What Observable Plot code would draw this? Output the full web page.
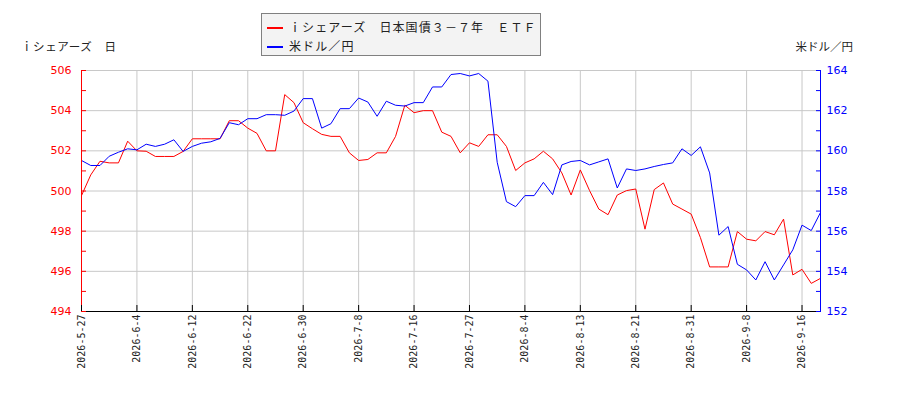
<!DOCTYPE html>
<html><head><meta charset="utf-8">
<script src="https://cdn.jsdelivr.net/npm/d3@7"></script>
<script src="https://cdn.jsdelivr.net/npm/@observablehq/plot@0.6"></script>
<style>
body{margin:0;background:#fff;}
#wrap{position:relative;width:900px;height:400px;overflow:hidden;}
#wrap svg{position:absolute;left:0;top:0;}
.jp{font-family:"Noto Sans CJK JP","Noto Sans",sans-serif;color:#222;position:absolute;white-space:nowrap;line-height:1;}
#legend{position:absolute;left:261px;top:13px;width:278px;height:41px;background:#f3f3f3;border:1px solid #808080;}
.row{position:absolute;left:5px;height:14px;}
.sw{position:absolute;left:0;top:6px;width:16px;height:2px;}
.lt{position:absolute;left:22px;top:0;font-size:12px;letter-spacing:1.1px;}
</style></head><body>
<div id="wrap"></div>
<script>
const seriesNames = ["ｉシェアーズ　日本国債３－７年　ＥＴＦ", "米ドル／円"];
const seriesColors = ["#ff0000", "#0000ff"];
const leftTitle = "ｉシェアーズ　日";
const rightTitle = "米ドル／円";
const tickLabels = ["2026-5-27","2026-6-4","2026-6-12","2026-6-22","2026-6-30","2026-7-8","2026-7-16","2026-7-27","2026-8-4","2026-8-13","2026-8-21","2026-8-31","2026-9-8","2026-9-16"];
const tickStep = 6;
const etf = [499.77,500.8,501.48,501.4,501.4,502.48,502.0,501.98,501.72,501.72,
501.72,501.97,502.6,502.6,502.6,502.6,503.5,503.5,503.13,502.87,
502.0,502.0,504.8,504.4,503.4,503.1,502.82,502.72,502.72,501.9,
501.52,501.57,501.9,501.9,502.72,504.27,503.9,504.0,504.0,502.93,
502.72,501.9,502.4,502.22,502.8,502.8,502.22,501.02,501.4,501.6,
501.98,501.6,500.9,499.8,501.05,500.02,499.1,498.82,499.8,500.02,
500.1,498.1,500.07,500.4,499.35,499.1,498.85,497.68,496.22,496.22,
496.22,497.98,497.6,497.52,497.98,497.82,498.6,495.82,496.1,495.4,495.65];
const usdjpy = [159.52,159.27,159.27,159.73,159.93,160.1,160.05,160.33,160.22,160.33,
160.55,159.97,160.22,160.38,160.45,160.62,161.4,161.3,161.6,161.6,
161.8,161.8,161.77,161.98,162.6,162.6,161.13,161.35,162.1,162.1,
162.63,162.43,161.72,162.47,162.27,162.23,162.4,162.4,163.18,163.18,
163.8,163.85,163.73,163.85,163.47,159.43,157.47,157.22,157.77,157.77,
158.43,157.82,159.3,159.47,159.52,159.3,159.45,159.6,158.15,159.1,
159.02,159.1,159.22,159.32,159.4,160.1,159.77,160.2,158.9,155.8,
156.23,154.35,154.07,153.57,154.48,153.57,154.32,155.07,156.3,156.03,156.93];
const leftDomain = [494, 506];
const rightDomain = [152, 164];
const leftMajor = [494,496,498,500,502,504,506];
const leftMinor = [494,495,496,497,498,499,500,501,502,503,504,505,506];

const off = leftDomain[0] - rightDomain[0];
const tickIdx = tickLabels.map((_, i) => i * tickStep);
const lastIdx = etf.length - 1;
const etfData = etf.map((v, i) => ({i, v}));
const fxData = usdjpy.map((v, i) => ({i, v: v + off}));
const numFont = "DejaVu Sans, sans-serif";

const chart = Plot.plot({
  width: 900, height: 400,
  marginLeft: 81, marginRight: 80, marginTop: 70, marginBottom: 89,
  style: {background: "transparent", fontFamily: numFont},
  x: {type: "linear", domain: [0, lastIdx]},
  y: {domain: leftDomain},
  marks: [
    Plot.gridY(leftMajor, {stroke: "#c8c8c8", strokeOpacity: 1}),
    Plot.gridX(tickIdx, {stroke: "#c8c8c8", strokeOpacity: 1}),
    Plot.line(etfData, {x: "i", y: "v", stroke: seriesColors[0], strokeWidth: 1}),
    Plot.line(fxData, {x: "i", y: "v", stroke: seriesColors[1], strokeWidth: 1}),
    Plot.ruleY([leftDomain[0]], {stroke: "#000"}),
    Plot.ruleX([0], {stroke: seriesColors[0]}),
    Plot.ruleX([lastIdx], {stroke: seriesColors[1]}),
    Plot.axisY({anchor: "left", ticks: leftMajor, tickSize: 0, tickPadding: 10, tickFormat: d => String(d), color: seriesColors[0], fontSize: 11, fontFamily: numFont, label: null}),
    Plot.axisY({anchor: "left", ticks: leftMinor, tickSize: 5, dx: 5, tickFormat: () => "", stroke: seriesColors[0], label: null}),
    Plot.axisY({anchor: "right", ticks: leftMajor, tickSize: 0, tickPadding: 6, tickFormat: d => String(d - off), color: seriesColors[1], fontSize: 11, fontFamily: numFont, label: null}),
    Plot.axisY({anchor: "right", ticks: leftMinor, tickSize: 5, dx: -5, tickFormat: () => "", stroke: seriesColors[1], label: null}),
    Plot.axisX({anchor: "bottom", ticks: tickIdx, tickSize: 6, dy: -6, tickFormat: () => "", stroke: "#000", label: null}),
    Plot.axisX({anchor: "bottom", ticks: tickIdx, tickSize: 0, tickPadding: 3, tickRotate: -90, tickFormat: d => tickLabels[d / tickStep], color: "#222", fontSize: 10, fontFamily: "DejaVu Sans Mono, monospace", label: null})
  ]
});
const wrap = document.getElementById("wrap");
wrap.appendChild(chart);

const lt = document.createElement("div");
lt.className = "jp"; lt.style.left = "21px"; lt.style.top = "41px"; lt.style.fontSize = "11.5px"; lt.style.letterSpacing = "0.6px";
lt.textContent = leftTitle; wrap.appendChild(lt);
const rt = document.createElement("div");
rt.className = "jp"; rt.style.right = "47px"; rt.style.top = "41px"; rt.style.fontSize = "11.5px";
rt.textContent = rightTitle; wrap.appendChild(rt);

const lg = document.createElement("div"); lg.id = "legend";
seriesNames.forEach((n, k) => {
  const r = document.createElement("div"); r.className = "row"; r.style.top = (7 + k * 19) + "px";
  const s = document.createElement("div"); s.className = "sw"; s.style.background = seriesColors[k];
  const t = document.createElement("div"); t.className = "lt jp"; t.textContent = n;
  r.appendChild(s); r.appendChild(t); lg.appendChild(r);
});
wrap.appendChild(lg);
</script>
</body></html>
